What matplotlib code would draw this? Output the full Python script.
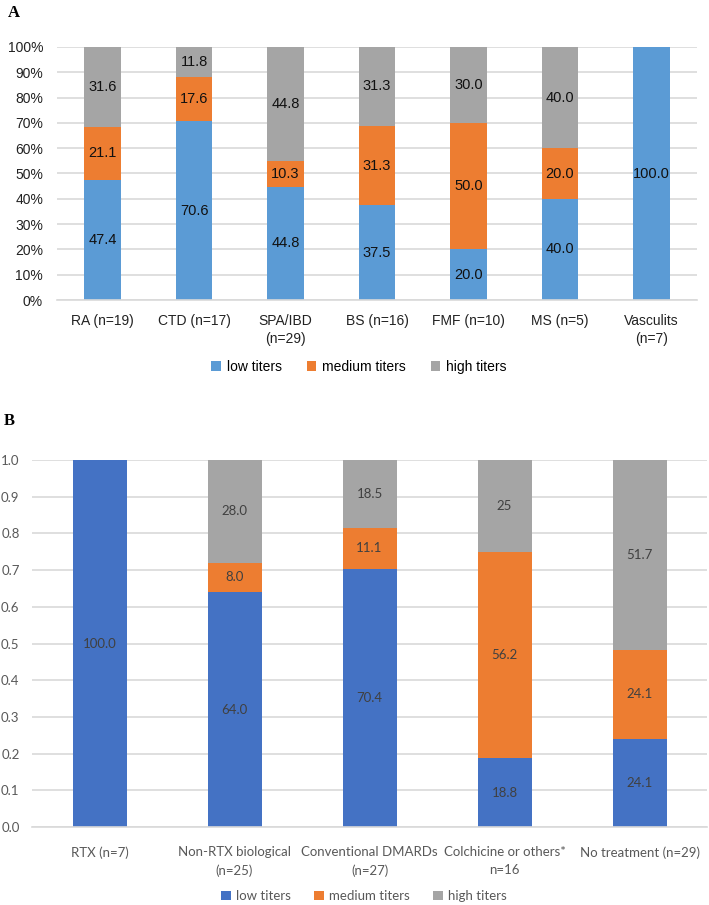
import numpy as np
import matplotlib
matplotlib.use("Agg")
from matplotlib import pyplot as plt

# panel A: by diagnosis
cats_a = ["RA (n=19)", "CTD (n=17)", "SPA/IBD\n(n=29)", "BS (n=16)",
          "FMF (n=10)", "MS (n=5)", "Vasculits\n(n=7)"]
low_a = [47.4, 70.6, 44.8, 37.5, 20.0, 40.0, 100.0]
med_a = [21.1, 17.6, 10.3, 31.3, 50.0, 20.0, 0.0]
high_a = [31.6, 11.8, 44.8, 31.3, 30.0, 40.0, 0.0]

# panel B: by treatment
cats_b = ["RTX (n=7)", "Non-RTX biological\n(n=25)", "Conventional DMARDs\n(n=27)",
          "Colchicine or others*\nn=16", "No treatment (n=29)"]
low_b = [100.0, 64.0, 70.4, 18.8, 24.1]
med_b = [0.0, 8.0, 11.1, 56.2, 24.1]
high_b = [0.0, 28.0, 18.5, 25.0, 51.7]
high_b_txt = ["", "28.0", "18.5", "25", "51.7"]

series = ["low titers", "medium titers", "high titers"]

W, H = 709, 905
fig = plt.figure(figsize=(W / 100, H / 100), dpi=100)

def px_axes(l, t, r, b):
    return fig.add_axes([l / W, 1 - b / H, (r - l) / W, (b - t) / H])

def style(ax, color):
    for s in ["top", "right", "left"]:
        ax.spines[s].set_visible(False)
    ax.spines["bottom"].set_color("#d9d9d9")
    ax.spines["bottom"].set_linewidth(1.2)
    ax.yaxis.grid(True, color="#d9d9d9", linewidth=1.2)
    ax.set_axisbelow(True)
    ax.tick_params(length=0, colors=color)

# ---- A ----
fa = "Liberation Sans"
sa = 10
cols_a = ["#5b9bd5", "#ed7d31", "#a5a5a5"]
ax = px_axes(57, 47, 697, 300)
x = np.arange(len(cats_a))
bottom = np.zeros(len(cats_a))
for name, vals, c in zip(series, [low_a, med_a, high_a], cols_a):
    vals = np.array(vals)
    ax.bar(x, vals, 0.4, bottom=bottom, color=c, label=name)
    for xi, b, v in zip(x, bottom, vals):
        if v > 0:
            ax.text(xi, b + v / 2, f"{v:.1f}", ha="center", va="center",
                    fontsize=10.5, family=fa, color="#111111")
    bottom += vals
ax.set_xlim(-0.5, len(cats_a) - 0.5)
ax.set_ylim(0, 100)
ax.set_yticks(np.arange(0, 101, 10))
ax.set_yticklabels([f"{v}%" for v in range(0, 101, 10)], family=fa, fontsize=sa)
ax.set_xticks(x)
ax.set_xticklabels(cats_a, family=fa, fontsize=sa, linespacing=1.4)
ax.tick_params(axis="y", pad=10)
ax.tick_params(axis="x", pad=10)
style(ax, "#222222")
ax.legend(loc="center", bbox_to_anchor=(359 / W, 1 - 367 / H), bbox_transform=fig.transFigure,
          ncol=3, frameon=False, prop={"family": fa, "size": sa},
          handlelength=0.7, handleheight=0.7, handletextpad=0.4, columnspacing=1.8)
fig.text(8 / W, 1 - 13 / H, "A", family="Liberation Serif", fontweight="bold",
         fontsize=12, va="center", ha="left")

# ---- B ----
fb = "Lato"
sb = 9.5
cols_b = ["#4472c4", "#ed7d31", "#a5a5a5"]
ax = px_axes(32, 460, 707, 827)
x = np.arange(len(cats_b))
bottom = np.zeros(len(cats_b))
for i, (name, vals, c) in enumerate(zip(series, [low_b, med_b, high_b], cols_b)):
    vals = np.array(vals) / 100
    ax.bar(x, vals, 0.4, bottom=bottom, color=c, label=name)
    for j, (xi, b, v) in enumerate(zip(x, bottom, vals)):
        if v > 0:
            txt = high_b_txt[j] if i == 2 else f"{v * 100:.1f}"
            ax.text(xi, b + v / 2, txt, ha="center", va="center",
                    fontsize=sb, family=fb, color="#404040")
    bottom += vals
ax.set_xlim(-0.5, len(cats_b) - 0.5)
ax.set_ylim(0, 1)
ax.set_yticks(np.arange(0, 1.01, 0.1))
ax.set_yticklabels([f"{v:.1f}" for v in np.arange(0, 1.01, 0.1)], family=fb, fontsize=sb)
ax.set_xticks(x)
ax.set_xticklabels(cats_b, family=fb, fontsize=sb, linespacing=1.55)
ax.tick_params(axis="y", pad=9)
ax.tick_params(axis="x", pad=14)
style(ax, "#595959")
ax.legend(loc="center", bbox_to_anchor=(364 / W, 1 - 896 / H), bbox_transform=fig.transFigure,
          ncol=3, frameon=False, prop={"family": fb, "size": sb}, labelcolor="#595959",
          handlelength=0.7, handleheight=0.7, handletextpad=0.4, columnspacing=1.8)
fig.text(4 / W, 1 - 421 / H, "B", family="Liberation Serif", fontweight="bold",
         fontsize=12, va="center", ha="left")

fig.savefig("out.png", dpi=100)
